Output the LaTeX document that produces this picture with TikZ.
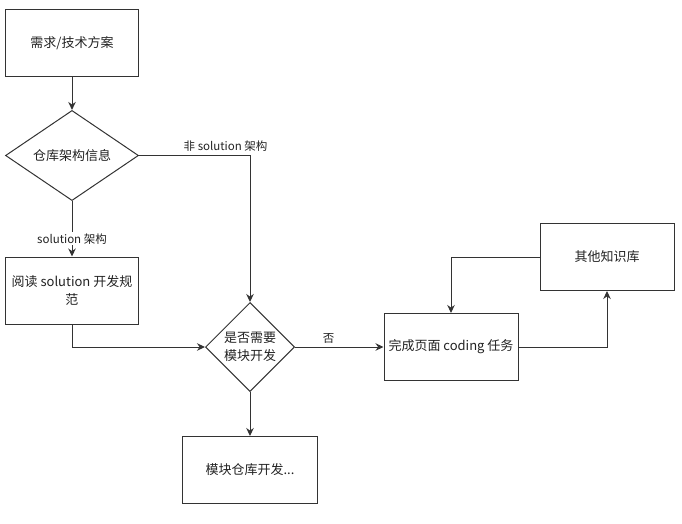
\documentclass[tikz,border=0pt]{standalone}
\usepackage{fontspec}
\setmainfont{Noto Sans CJK SC}
\usepackage{tikz}
\usetikzlibrary{shapes.geometric,arrows.meta}
\definecolor{linegray}{HTML}{333333}
\definecolor{textgray}{HTML}{222222}

\begin{document}
\begin{tikzpicture}[x=1pt,y=-1pt,
    box/.style={draw=linegray, line width=1pt, minimum width=133pt, minimum height=67pt,
      inner sep=0pt, align=center, text=textgray, font=\fontsize{13}{18}\selectfont},
    decide/.style={diamond, draw=linegray, line width=1pt, inner sep=0pt, aspect=1,
      align=center, text=textgray, font=\fontsize{13}{18}\selectfont},
    flow/.style={draw=linegray, line width=1pt, -{Stealth[length=8pt,width=7.5pt]}},
    lbl/.style={text=textgray, font=\fontsize{11.5}{14}\selectfont}]
      \useasboundingbox (0,0) rectangle (682,524);
      \node[box] (req) at (72, 43.5) {需求/技术方案};
      \node[decide, minimum width=133pt, minimum height=89pt] (repo) at (72, 155.5) {仓库架构信息};
      \node[box] (sol) at (72, 290.5) {阅读 solution 开发规\\范};
      \node[decide, minimum width=89pt, minimum height=89pt] (need) at (250, 347) {是否需要\\模块开发};
      \node[box, minimum width=135pt] (mod) at (250, 470) {模块仓库开发...};
      \node[box, minimum width=134pt] (page) at (451, 347) {完成页面 coding 任务};
      \node[box, minimum width=134pt] (kb) at (607, 257) {其他知识库};
      \draw[flow] (req) -- (repo);
      % solution -> read spec
      \draw[flow] (repo) -- node[lbl, fill=white, pos=0.68, inner sep=1pt] {solution 架构} (sol);
      % not solution -> decision
      \draw[flow] (repo.east) -| node[lbl, above, pos=0.39] {非 solution 架构} (need.north);
      \draw[flow] (sol.south) |- (need.west);
      \draw[flow] (need.east) -- node[lbl, above, pos=0.38] {否} (page.west);
      \draw[flow] (need.south) -- (mod.north);
      % page task <-> knowledge base
      \draw[flow] (page.east) -| (kb.south);
      \draw[flow] (kb.west) -| (page.north);
\end{tikzpicture}
\end{document}
